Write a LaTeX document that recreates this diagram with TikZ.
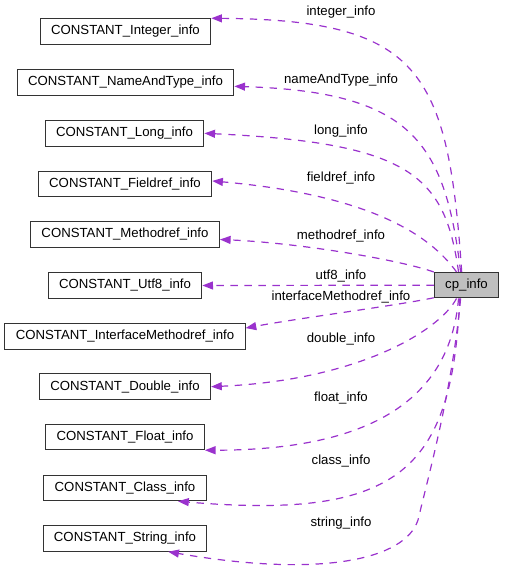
\documentclass[tikz,border=0pt]{standalone}
\usepackage{fontspec}
\setmainfont{Liberation Sans}
\usetikzlibrary{arrows.meta}
\definecolor{edgepurple}{HTML}{9A32CD}
\begin{document}
\begin{tikzpicture}[
        x=0.75pt, y=-0.75pt,
        font=\fontsize{9.9}{12}\selectfont,
        % Kästen der referenzierten Klassen
        klass/.style={draw=black!80, line width=0.75pt, inner xsep=8.2pt, inner ysep=0pt, minimum height=19.1pt},
        % die Hauptklasse ist grau hinterlegt
        mainklass/.style={klass, fill=black!25},
        % gestrichelte Verwendungs-Kanten
        member/.style={draw=edgepurple, line width=0.9pt, dash pattern=on 5.5pt off 5pt, -{Triangle[length=8pt,width=6pt]}},
        lbl/.style={inner sep=0pt}
    ]
    \useasboundingbox (0,0) rectangle (504,574);

    \node[klass] (integer) at (125.5,31.5) {CONSTANT\_Integer\_info};
    \node[klass] (nametype) at (125.5,82.5) {CONSTANT\_NameAndType\_info};
    \node[klass] (long) at (124.5,133.3) {CONSTANT\_Long\_info};
    \node[klass] (fieldref) at (125,184) {CONSTANT\_Fieldref\_info};
    \node[klass] (methodref) at (125,234.5) {CONSTANT\_Methodref\_info};
    \node[klass] (utf8) at (125,285.5) {CONSTANT\_Utf8\_info};
    \node[klass] (ifaceref) at (125,336.5) {CONSTANT\_InterfaceMethodref\_info};
    \node[klass] (double) at (125,386.7) {CONSTANT\_Double\_info};
    \node[klass] (float) at (125,437) {CONSTANT\_Float\_info};
    \node[klass] (class) at (125,488) {CONSTANT\_Class\_info};
    \node[klass] (string) at (125,538.5) {CONSTANT\_String\_info};
    \node[mainklass] (cp) at (466.5,285.2) {cp\_info};

    % Beschriftungen der Kanten
    \node[lbl] (intlbl) at (341,12) {integer\_info};
    \node[lbl] (ntlbl) at (341,80) {nameAndType\_info};
    \node[lbl] (longlbl) at (341,130.7) {long\_info};
    \node[lbl] (fieldlbl) at (341,178) {fieldref\_info};
    \node[lbl] (methlbl) at (341,235.7) {methodref\_info};
    \node[lbl] (utflbl) at (341,276) {utf8\_info};
    \node[lbl] (ifacelbl) at (341,296.7) {interfaceMethodref\_info};
    \node[lbl] (doublelbl) at (341,339.3) {double\_info};
    \node[lbl] (floatlbl) at (341,398.3) {float\_info};
    \node[lbl] (classlbl) at (341,460.7) {class\_info};
    \node[lbl] (stringlbl) at (341,522.7) {string\_info};

    \draw[member] (cp.110) .. controls (448,70) and (420,20) .. (integer.north east);
    \draw[member] (cp.114) .. controls (445,140) and (410,92) .. (nametype.-2);
    \draw[member] (cp.121) .. controls (445,175) and (410,143) .. (long.east);
    \draw[member] (cp.127) .. controls (430,235) and (370,195) .. (fieldref.2);
    \draw[member] (cp.158) .. controls (400,260) and (300,243) .. (methodref.-3);
    \draw[member] (cp.west) -- (utf8.east);
    \draw[member] (cp.201) .. controls (400,305) and (300,318) .. (ifaceref.4);
    \draw[member] (cp.233) .. controls (440,330) and (360,380) .. (double.east);
    \draw[member] (cp.239) .. controls (450,400) and (370,450) .. (float.south east);
    \draw[member] (cp.243) .. controls (452,470) and (400,520) .. (class.-14);
    \draw[member] (cp.246) .. controls (452,390) and (430,470) .. (418,520)
        .. controls (405,560) and (320,578) .. (string.-17);
\end{tikzpicture}
\end{document}
